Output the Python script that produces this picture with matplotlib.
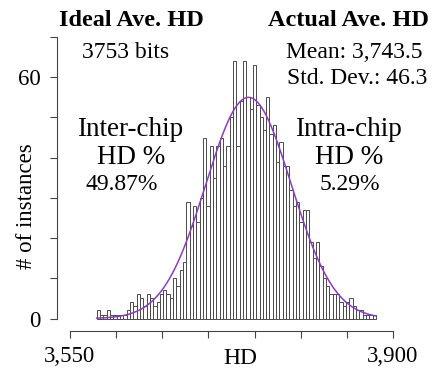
import numpy as np
import matplotlib
matplotlib.use("Agg")
import matplotlib.pyplot as plt

# histogram of HD between chip pairs (counts)
bin_start = 3579.0
bin_width = 3.6
counts = [2, 1, 1, 2, 1, 1, 1, 1, 1, 2,
          4, 3, 6, 5, 3, 6, 5, 3, 4, 6,
          7, 6, 5, 10, 8, 12, 14, 29, 23, 28,
          24, 30, 45, 28, 43, 35, 43, 45, 38, 43,
          50, 64, 43, 54, 64, 55, 52, 63, 53, 50,
          47, 55, 46, 48, 39, 44, 38, 38, 32, 28,
          29, 24, 27, 27, 19, 15, 19, 13, 10, 8,
          6, 6, 6, 4, 3, 4, 5, 3, 2, 2,
          1, 1, 1, 1]
fit_mean = 3743.5
fit_std = 46.3
ideal_hd = 3753
inter_pct = 49.87
intra_pct = 5.29

x_ticks = np.arange(3550, 3901, 50)
y_ticks = np.arange(0, 71, 10)

plt.rcParams["font.family"] = ["Liberation Serif", "DejaVu Serif"]

counts = np.array(counts)
edges = bin_start + bin_width * np.arange(len(counts) + 1)

fig = plt.figure(figsize=(4.32, 3.69), dpi=100)
ax = fig.add_axes([57 / 432, 1 - 331 / 369, 348 / 432, 294 / 369])

ax.bar(edges[:-1], counts, width=bin_width, align="edge", color="white",
       edgecolor="#4a4a4a", linewidth=0.7)

# fitted normal curve scaled to the histogram
xs = np.linspace(edges[0], edges[-1], 400)
scale = counts.sum() * bin_width / (fit_std * np.sqrt(2 * np.pi))
ax.plot(xs, scale * np.exp(-0.5 * ((xs - fit_mean) / fit_std) ** 2),
        color="#8a3cc2", linewidth=1.1)

ax.set_xlim(3536, 3913)
ax.set_ylim(-3.1, 70)
for s in ("top", "right"):
    ax.spines[s].set_visible(False)
ax.spines["left"].set_bounds(0, 70)
ax.spines["bottom"].set_bounds(3550, 3900)
ax.spines["left"].set_color("#444444")
ax.spines["bottom"].set_color("#444444")

ax.set_xticks(x_ticks)
ax.set_xticklabels(["3,550"] + [""] * (len(x_ticks) - 2) + ["3,900"])
ax.set_yticks(y_ticks)
ax.set_yticklabels([str(t) if t in (0, 60) else "" for t in y_ticks])
ax.tick_params(axis="both", length=5, width=0.8, color="#444444", labelsize=16.5)
ax.tick_params(axis="y", pad=7)
ax.tick_params(axis="x", pad=6)

fig.text(240 / 432, 1 - 358 / 369, "HD", ha="center", va="center", fontsize=17)
fig.text(27 / 432, 1 - 206 / 369, "# of instances", ha="center", va="center",
         rotation=90, fontsize=16.5)

fig.text(131 / 432, 1 - 20 / 369, "Ideal Ave. HD", ha="center", va="center",
         fontsize=17.5, fontweight="bold")
fig.text(348 / 432, 1 - 20 / 369, "Actual Ave. HD", ha="center", va="center",
         fontsize=17.5, fontweight="bold")
fig.text(126 / 432, 1 - 53 / 369, f"{ideal_hd} bits", ha="center", va="center",
         fontsize=17)
fig.text(423 / 432, 1 - 53 / 369, f"Mean: {fit_mean:,.1f}", ha="right", va="center",
         fontsize=17)
fig.text(427 / 432, 1 - 79 / 369, f"Std. Dev.: {fit_std}", ha="right", va="center",
         fontsize=17)

fig.text(130 / 432, 1 - 129 / 369, "Inter-chip", ha="center", va="center", fontsize=19.5)
fig.text(131 / 432, 1 - 157 / 369, "HD %", ha="center", va="center", fontsize=19.5)
fig.text(122 / 432, 1 - 185 / 369, f"{inter_pct}%", ha="center", va="center", fontsize=17)
fig.text(348 / 432, 1 - 129 / 369, "Intra-chip", ha="center", va="center", fontsize=19.5)
fig.text(349 / 432, 1 - 157 / 369, "HD %", ha="center", va="center", fontsize=19.5)
fig.text(350 / 432, 1 - 185 / 369, f"{intra_pct}%", ha="center", va="center", fontsize=17)

fig.savefig("out.png", dpi=100)
